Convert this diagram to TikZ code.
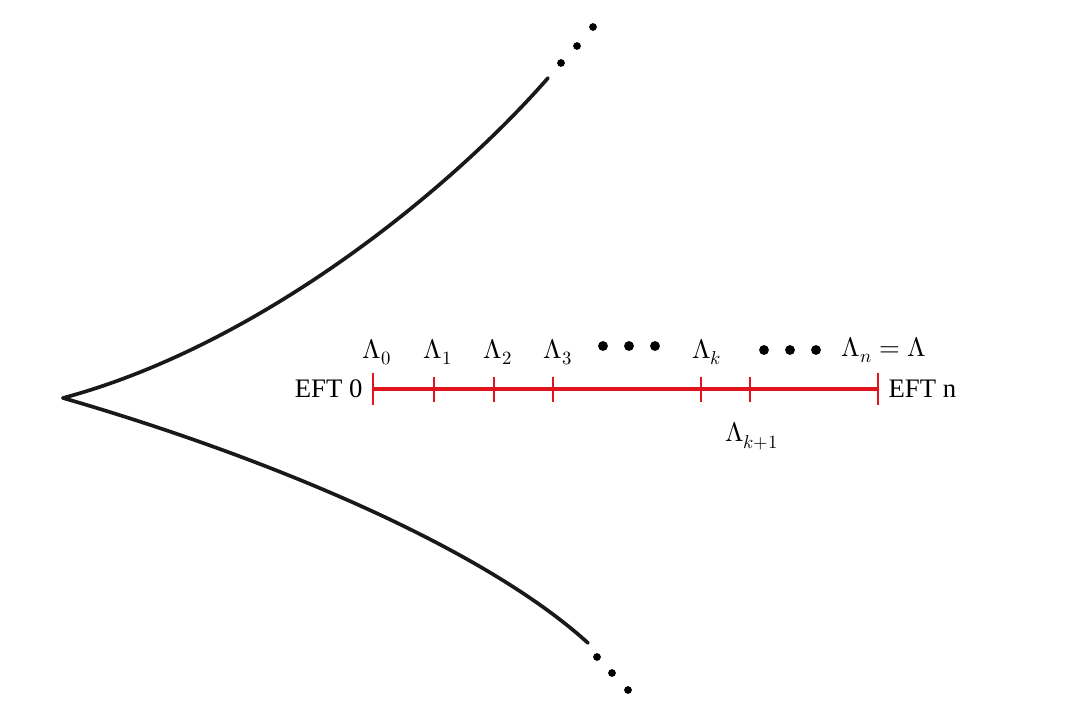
\documentclass[tikz,border=0pt]{standalone}
\usepackage{fontspec}
\setmainfont{Liberation Serif}
\usepackage{unicode-math}
\setmathfont{Latin Modern Math}
\usetikzlibrary{positioning}
\definecolor{eftred}{RGB}{225,20,30}

\begin{document}
\begin{tikzpicture}[
    x=0.025cm, y=-0.025cm,
    branch/.style={line width=2.6pt, black!90, line cap=round},
    scale line/.style={line width=2.4pt, eftred},
    tick/.style={line width=2pt, eftred},
    dot/.style={circle, fill=black, inner sep=0pt, minimum size=5.5pt},
    lab/.style={font=\fontsize{19}{22}\selectfont}
]
  \useasboundingbox (0,0) rectangle (1080,721);

  % the two branches
  \coordinate (cusp) at (63,398);
  \coordinate (top) at (548,78);
  \coordinate (bot) at (588,643);
  \draw[branch] (cusp) .. controls (260,345) and (450,190) .. (top);
  \draw[branch] (cusp) .. controls (260,455) and (480,545) .. (bot);
  \node[dot] (t1) at (561,63) {};
  \node[dot] (t2) at (577,46) {};
  \node[dot] (t3) at (593,27) {};
  \node[dot] (b1) at (597,657) {};
  \node[dot] (b2) at (612,673) {};
  \node[dot] (b3) at (628,690) {};

  % the red scale
  \coordinate (s0) at (373,389);
  \coordinate (sn) at (878,389);
  \draw[scale line] (s0) -- (sn);
  \foreach \x in {434,494,553,701,750}
    \draw[tick] (\x,377) -- (\x,402);
  \draw[tick] (373,373) -- (373,405);
  \draw[tick] (878,373) -- (878,405);

  \node[lab, left=4pt of s0] (eft0) {EFT 0};
  \node[lab, right=4pt of sn] (eftn) {EFT n};

  \node[lab] (L0) at (377,352) {$\Lambda_0$};
  \node[lab] (L1) at (438,352) {$\Lambda_1$};
  \node[lab] (L2) at (498,352) {$\Lambda_2$};
  \node[lab] (L3) at (558,352) {$\Lambda_3$};
  \node[lab] (Lk) at (707,352) {$\Lambda_k$};
  \node[lab] (Ln) at (884,350) {$\Lambda_n=\Lambda$};
  \node[lab] (Lk1) at (752,436) {$\Lambda_{k+1}$};
  \foreach \x [count=\i] in {603,629,655}
    \node[dot, minimum size=7pt] (d\i) at (\x,346) {};
  \foreach \x [count=\i] in {764,790,816}
    \node[dot, minimum size=7pt] (e\i) at (\x,350) {};
\end{tikzpicture}
\end{document}
